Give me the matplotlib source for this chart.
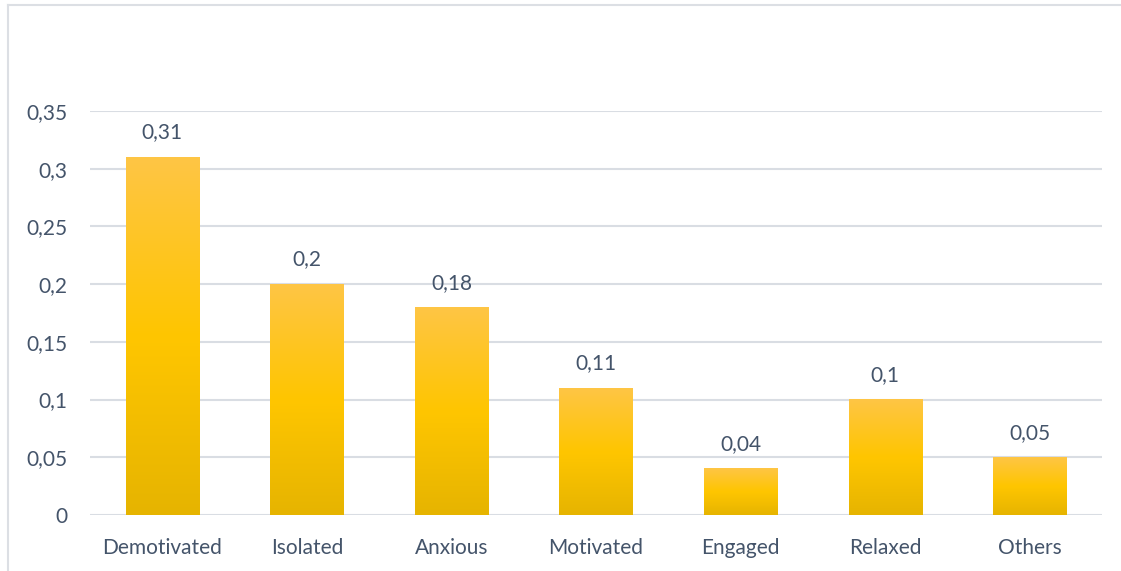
import numpy as np
import matplotlib.pyplot as plt
from matplotlib.colors import LinearSegmentedColormap
from matplotlib.lines import Line2D

categories = ["Demotivated", "Isolated", "Anxious", "Motivated", "Engaged", "Relaxed", "Others"]
values = [0.31, 0.2, 0.18, 0.11, 0.04, 0.1, 0.05]
yticks = [0, 0.05, 0.1, 0.15, 0.2, 0.25, 0.3, 0.35]

text_col = "#44546A"
grid_col = "#D9DDE3"
fs = 15

def comma(v):
    s = ("%.2f" % v).rstrip("0").rstrip(".")
    return s.replace(".", ",")

plt.rcParams["font.family"] = ["Lato", "DejaVu Sans"]

fig = plt.figure(figsize=(11.21, 5.71), dpi=100)
ax = fig.add_axes([90 / 1121, 1 - 515 / 571, 1012 / 1121, 404 / 571])

# vertical gradient: light amber at top, gold in the middle, darker at the base
grad = LinearSegmentedColormap.from_list("bar", ["#E6B400", "#FFC600", "#FEC545"])
g = np.linspace(0, 1, 256).reshape(-1, 1)

x = np.arange(len(categories))
bars = ax.bar(x, values, width=0.505, facecolor="none", edgecolor="none", zorder=3)
for b in bars:
    x0, w, h = b.get_x(), b.get_width(), b.get_height()
    ax.imshow(g, cmap=grad, origin="lower", aspect="auto",
              extent=(x0, x0 + w, 0, h), zorder=3)

for xi, v in zip(x, values):
    ax.annotate(comma(v), (xi, v), xytext=(0, 10.5), textcoords="offset points",
                ha="center", va="bottom", fontsize=fs, color=text_col)

ax.set_xlim(-0.5, len(categories) - 0.5)
ax.set_ylim(0, 0.35)
ax.set_yticks(yticks)
ax.set_yticklabels([comma(t) for t in yticks])
ax.set_xticks(x)
ax.set_xticklabels(categories)
ax.tick_params(axis="y", length=0, pad=16, labelsize=fs, labelcolor=text_col)
ax.tick_params(axis="x", length=0, pad=16.5, labelsize=fs, labelcolor=text_col)
ax.grid(axis="y", color=grid_col, linewidth=1.5, zorder=0)
ax.set_axisbelow(True)
for s in ax.spines.values():
    s.set_visible(False)

# chart area frame (left and top edges)
fig.add_artist(Line2D([8 / 1121, 8 / 1121], [0, 1 - 5 / 571], color="#DCDFE4", linewidth=1.5))
fig.add_artist(Line2D([8 / 1121, 1], [1 - 5 / 571, 1 - 5 / 571], color="#DCDFE4", linewidth=1.5))

fig.savefig("out.png", dpi=100)
